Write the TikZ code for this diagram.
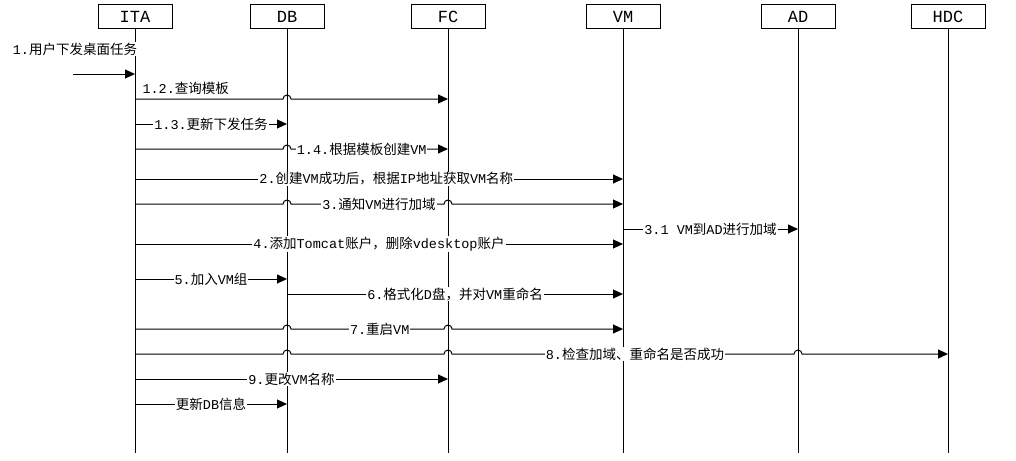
\documentclass[tikz,border=0pt]{standalone}
\usepackage{fontspec}
\setmainfont{Liberation Mono}
\newfontfamily\cjkfont{Noto Sans CJK SC}
\usetikzlibrary{arrows.meta}

% Han characters and full-width punctuation switch to the CJK font
\XeTeXinterchartokenstate=1
\newXeTeXintercharclass\cjkclass
\makeatletter
\def\setcjkrange#1#2{\count@=#1
  \loop\XeTeXcharclass\count@=\cjkclass
  \ifnum\count@<#2 \advance\count@\@ne\repeat}
\setcjkrange{"3000}{"303F}
\setcjkrange{"4E00}{"9FFF}
\setcjkrange{"FF00}{"FFEF}
\makeatother
\XeTeXinterchartoks 0 \cjkclass = {\cjkfont}
\XeTeXinterchartoks 4095 \cjkclass = {\cjkfont}
\XeTeXinterchartoks \cjkclass 0 = {\rmfamily}
\XeTeXinterchartoks \cjkclass 4095 = {\rmfamily}

\begin{document}
\begin{tikzpicture}[x=1pt, y=1pt,
  obj/.style={draw, line width=1pt, minimum width=74pt, minimum height=24pt,
              inner sep=0pt, font=\fontsize{17}{17}\selectfont},
  life/.style={line width=1pt},
  msg/.style={line width=1pt, -{Triangle[length=10pt,width=9pt]}},
  lbl/.style={fill=white, inner sep=1pt, font=\fontsize{13.5}{13.5}\selectfont}]
\useasboundingbox (0,0) rectangle (1016,-460);
\node[obj] (ita) at (135,-17) {ITA};
\node[obj] (db)  at (287,-17) {DB};
\node[obj] (fc)  at (448,-17) {FC};
\node[obj] (vm)  at (623,-17) {VM};
\node[obj] (ad)  at (798,-17) {AD};
\node[obj] (hdc) at (948,-17) {HDC};
\coordinate (bottom) at (0,-453);
\foreach \n in {ita,db,fc,vm,ad,hdc}
  \draw[life] (\n) -- (\n |- bottom);
% incoming request
\coordinate (user) at (73,-74);
\draw[msg] (user) node[lbl, xshift=2pt, yshift=25pt] {1.用户下发桌面任务} -- (ita |- user);
% messages, hops where a line crosses a lifeline
\draw[msg] (ita |- 0,-99) node[lbl, anchor=south west, xshift=6pt, yshift=3pt] {1.2.查询模板}
  -- ++(148,0) arc[start angle=180, end angle=0, radius=4pt] -- (fc |- 0,-99);
\draw[msg] (ita |- 0,-124) -- node[lbl] {1.3.更新下发任务} (db |- 0,-124);
\draw[msg] (ita |- 0,-149) -- ++(148,0) arc[start angle=180, end angle=0, radius=4pt]
  -- node[lbl, pos=.45] {1.4.根据模板创建VM} (fc |- 0,-149);
\draw[msg] (ita |- 0,-179) -- node[lbl, pos=.515] {2.创建VM成功后，根据IP地址获取VM名称} (vm |- 0,-179);
\draw[msg] (ita |- 0,-204) -- ++(148,0) arc[start angle=180, end angle=0, radius=4pt]
  -- node[lbl, pos=.575] {3.通知VM进行加域} ++(153,0) arc[start angle=180, end angle=0, radius=4pt]
  -- (vm |- 0,-204);
\draw[msg] (vm |- 0,-229) -- node[lbl] {3.1 VM到AD进行加域} (ad |- 0,-229);
\draw[msg] (ita |- 0,-244) -- node[lbl] {4.添加Tomcat账户，删除vdesktop账户} (vm |- 0,-244);
\draw[msg] (ita |- 0,-279) -- node[lbl] {5.加入VM组} (db |- 0,-279);
\draw[msg] (db |- 0,-294) -- node[lbl] {6.格式化D盘，并对VM重命名} (vm |- 0,-294);
\draw[msg] (ita |- 0,-329) -- ++(148,0) arc[start angle=180, end angle=0, radius=4pt]
  -- node[lbl, pos=.58] {7.重启VM} ++(153,0) arc[start angle=180, end angle=0, radius=4pt]
  -- (vm |- 0,-329);
\draw[msg] (ita |- 0,-354) -- ++(148,0) arc[start angle=180, end angle=0, radius=4pt]
  -- ++(153,0) arc[start angle=180, end angle=0, radius=4pt]
  -- node[lbl, pos=.535] {8.检查加域、重命名是否成功} ++(342,0) arc[start angle=180, end angle=0, radius=4pt]
  -- (hdc |- 0,-354);
\draw[msg] (ita |- 0,-379) -- node[lbl] {9.更改VM名称} (fc |- 0,-379);
\draw[msg] (ita |- 0,-404) -- node[lbl] {更新DB信息} (db |- 0,-404);
\end{tikzpicture}
\end{document}
